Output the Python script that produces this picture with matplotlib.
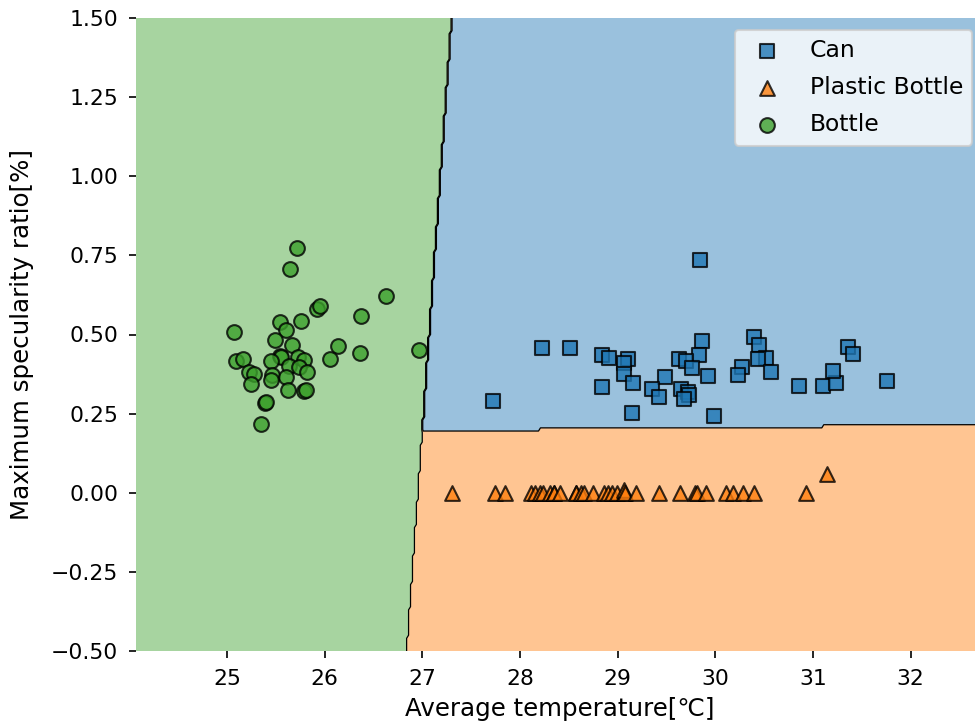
import numpy as np
import matplotlib
matplotlib.use("Agg")
import matplotlib.pyplot as plt

# ---------------- data ----------------
class_names = ["Can", "Plastic Bottle", "Bottle"]
class_colors = ["#1f77b4", "#ff7f0e", "#3ca02c"]
class_markers = ["s", "^", "o"]

can_temp = [29.84, 27.72, 28.23, 28.51, 28.84, 28.91, 29.11, 29.07, 29.06, 29.16,
            28.84, 29.15, 29.48, 29.35, 29.42, 29.86, 29.83, 29.63, 29.70, 29.76,
            29.92, 29.65, 29.72, 29.73, 29.68, 29.99, 30.40, 30.45, 30.52, 30.44,
            30.27, 30.23, 30.57, 30.86, 31.10, 31.24, 31.20, 31.36, 31.41, 31.76]
can_spec = [0.734, 0.291, 0.457, 0.457, 0.435, 0.425, 0.423, 0.410, 0.376, 0.346,
            0.335, 0.252, 0.367, 0.329, 0.304, 0.480, 0.436, 0.424, 0.415, 0.394,
            0.368, 0.329, 0.317, 0.310, 0.296, 0.241, 0.492, 0.467, 0.427, 0.422,
            0.397, 0.373, 0.383, 0.338, 0.338, 0.346, 0.386, 0.462, 0.438, 0.354]

pet_temp = [27.30, 27.74, 27.85, 28.11, 28.15, 28.21, 28.24, 28.31, 28.35, 28.35,
            28.41, 28.57, 28.57, 28.62, 28.66, 28.75, 28.86, 28.90, 28.94, 28.99,
            29.06, 29.06, 29.08, 29.19, 29.42, 29.64, 29.79, 29.81, 29.90, 30.11,
            30.18, 30.28, 30.40, 30.93, 31.14]
pet_spec = [0.0, 0.0, 0.0, 0.0, 0.0, 0.0, 0.0, 0.0, 0.0, 0.0,
            0.0, 0.0, 0.0, 0.0, 0.0, 0.0, 0.0, 0.0, 0.0, 0.0,
            0.0, 0.008, 0.0, 0.0, 0.0, 0.0, 0.0, 0.0, 0.0, 0.0,
            0.0, 0.0, 0.0, 0.0, 0.058]

bottle_temp = [25.72, 25.65, 26.63, 25.92, 25.95, 26.37, 25.54, 25.76, 25.07, 25.61,
               25.49, 25.67, 26.14, 26.97, 26.36, 26.06, 25.09, 25.17, 25.54, 25.55,
               25.45, 25.73, 25.79, 25.64, 25.74, 25.82, 25.23, 25.28, 25.46, 25.61,
               25.25, 25.45, 25.63, 25.79, 25.81, 25.39, 25.40, 25.35]
bottle_spec = [0.773, 0.707, 0.622, 0.580, 0.590, 0.557, 0.541, 0.544, 0.508, 0.515,
               0.482, 0.467, 0.463, 0.452, 0.440, 0.423, 0.417, 0.423, 0.433, 0.428,
               0.417, 0.428, 0.420, 0.399, 0.396, 0.380, 0.383, 0.375, 0.373, 0.367,
               0.344, 0.355, 0.325, 0.321, 0.325, 0.284, 0.287, 0.218]

# decision boundaries of the fitted classifier
bottle_bound_y = [-0.5, 1.5]       # Bottle | others  : x as a function of y
bottle_bound_x = [26.84, 27.30]
pet_bound_x = [27.02, 31.10]       # Can / Plastic Bottle : y as a function of x
pet_bound_y = [0.1959, 0.2100]

y_limits = (-0.5, 1.5)
x_ticks = [25, 26, 27, 28, 29, 30, 31, 32]
y_ticks = [-0.50, -0.25, 0.00, 0.25, 0.50, 0.75, 1.00, 1.25, 1.50]

# ---------------- figure ----------------
fig = plt.figure(figsize=(6.5, 727 / 150), dpi=150)
ax = fig.add_axes([136 / 975, 76 / 727, 848 / 975, 633 / 727])

all_x = np.array(can_temp + pet_temp + bottle_temp)
all_y = np.array(can_spec + pet_spec + bottle_spec)
x_min, x_max = all_x.min() - 1, all_x.max() + 1
y_min, y_max = all_y.min() - 1, all_y.max() + 1
xx, yy = np.meshgrid(np.arange(x_min, x_max, 0.02), np.arange(y_min, y_max, 0.01))


def classify(x, y):
    s1 = (bottle_bound_x[1] - bottle_bound_x[0]) / (bottle_bound_y[1] - bottle_bound_y[0])
    xb = bottle_bound_x[0] + s1 * (y - bottle_bound_y[0])
    s2 = (pet_bound_y[1] - pet_bound_y[0]) / (pet_bound_x[1] - pet_bound_x[0])
    yb = pet_bound_y[0] + s2 * (x - pet_bound_x[0])
    z = np.where(y > yb, 0, 1)
    z = np.where(x < xb, 2, z)
    return z


Z = classify(xx, yy)
levels = np.arange(Z.max() + 2) - 0.5
ax.contourf(xx, yy, Z, levels=levels, colors=class_colors, alpha=0.45, antialiased=True)
ax.contour(xx, yy, Z, levels=levels, colors="k", linewidths=0.6)

groups = [(can_temp, can_spec), (pet_temp, pet_spec), (bottle_temp, bottle_spec)]
handles = []
for (gx, gy), name, c, m in zip(groups, class_names, class_colors, class_markers):
    h = ax.scatter(gx, gy, s=50, c=c, marker=m, edgecolor="black",
                   linewidths=1.0, alpha=0.8, label=name, zorder=3)
    handles.append(h)

ax.set_xlim(xx.min(), xx.max())
ax.set_ylim(*y_limits)
ax.set_xticks(x_ticks)
ax.set_yticks(y_ticks)
ax.tick_params(labelsize=10.5, pad=5)
for sp in ax.spines.values():
    sp.set_visible(False)

ax.set_xlabel("Average temperature[℃]", family=["DejaVu Sans", "Noto Sans CJK JP"],
              fontsize=11.75)
ax.set_ylabel("Maximum specularity ratio[%]", fontsize=11.75, labelpad=8)
ax.legend(handles=handles, loc="upper right", scatterpoints=1, framealpha=0.8,
          fontsize=11.25, labelspacing=0.6)

fig.savefig("out.png", dpi=150)
